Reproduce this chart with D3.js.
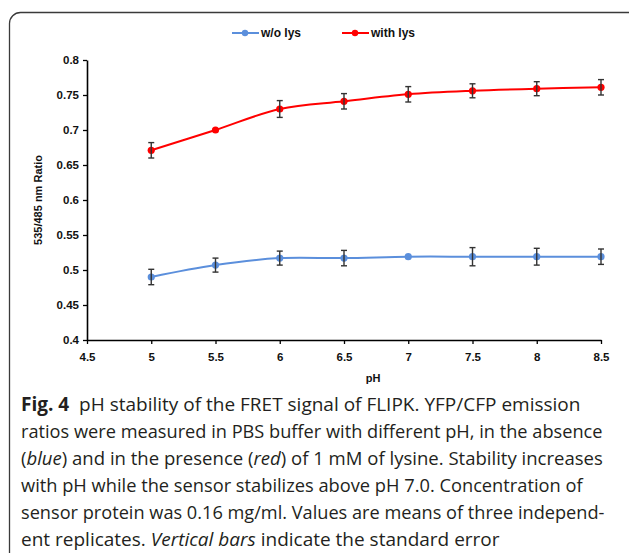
<!DOCTYPE html>
<html>
<head>
<meta charset="utf-8">
<script src="https://cdn.jsdelivr.net/npm/d3@7"></script>
<style>
  html, body { margin: 0; padding: 0; background: #fff; }
  svg { display: block; }
</style>
</head>
<body>
<svg id="fig" width="629" height="553"></svg>
<script>
// pH values tested
const phValues = [5, 5.5, 6, 6.5, 7, 7.5, 8, 8.5];
// 535/485 nm emission ratio without lysine (mean, standard error)
const ratioNoLys = [0.490, 0.507, 0.517, 0.517, 0.519, 0.519, 0.519, 0.519];
const errNoLys   = [0.011, 0.010, 0.010, 0.011, 0.001, 0.013, 0.012, 0.011];
// 535/485 nm emission ratio with 1 mM lysine (mean, standard error)
const ratioLys = [0.671, 0.700, 0.730, 0.741, 0.751, 0.756, 0.759, 0.761];
const errLys   = [0.011, 0.001, 0.012, 0.011, 0.011, 0.010, 0.010, 0.011];
// axis ticks
const xTicks = [4.5, 5, 5.5, 6, 6.5, 7, 7.5, 8, 8.5];
const yTicks = [0.4, 0.45, 0.5, 0.55, 0.6, 0.65, 0.7, 0.75, 0.8];
const seriesNames = ["w/o lys", "with lys"];
const seriesColors = ["#5b8fdc", "#ff0000"];

const captionLines = [
  [{t: "Fig. 4", b: true}, {t: "\u00a0\u00a0pH stability of the FRET signal of FLIPK. YFP/CFP emission"}],
  [{t: "ratios were measured in PBS buffer with different pH, in the absence"}],
  [{t: "("}, {t: "blue", i: true}, {t: ") and in the presence ("}, {t: "red", i: true}, {t: ") of 1 mM of lysine. Stability increases"}],
  [{t: "with pH while the sensor stabilizes above pH 7.0. Concentration of"}],
  [{t: "sensor protein was 0.16 mg/ml. Values are means of three independ-"}],
  [{t: "ent replicates. "}, {t: "Vertical bars", i: true}, {t: " indicate the standard error"}]
];
const captionWidths = [565, 582, 582, 562, 584, 492];

const svg = d3.select("#fig");

// figure frame with rounded corner (extends past right and bottom edges)
svg.append("rect")
  .attr("x", 9.5).attr("y", 12.5)
  .attr("width", 640).attr("height", 600)
  .attr("rx", 11).attr("ry", 11)
  .attr("fill", "none")
  .attr("stroke", "#3a3a3a")
  .attr("stroke-width", 1.3);

const x = d3.scaleLinear().domain([4.5, 8.5]).range([87, 601]);
const y = d3.scaleLinear().domain([0.4, 0.8]).range([340, 60]);

const fontChart = "'Liberation Sans', Arial, sans-serif";

// axes
const xAxis = svg.append("g")
  .attr("transform", `translate(0,${y(0.4)})`)
  .call(d3.axisBottom(x).tickValues(xTicks).tickFormat(d3.format("")).tickSize(4).tickSizeOuter(0));
const yAxis = svg.append("g")
  .attr("transform", `translate(${x(4.5)},0)`)
  .call(d3.axisLeft(y).tickValues(yTicks).tickFormat(d => String(+d.toFixed(2))).tickSize(4).tickSizeOuter(0));

[xAxis, yAxis].forEach(g => {
  g.select(".domain").attr("stroke", "#000").attr("stroke-width", 1.6);
  g.selectAll(".tick line").attr("stroke", "#000").attr("stroke-width", 1.3);
  g.selectAll(".tick text")
    .attr("fill", "#111")
    .style("font-family", fontChart)
    .style("font-size", "11.5px")
    .style("font-weight", "bold");
});
xAxis.selectAll(".tick text").attr("dy", "1.2em");
yAxis.selectAll(".tick text").attr("x", -8);

// axis titles
svg.append("text")
  .attr("x", x(6.5) + 29).attr("y", 382)
  .attr("text-anchor", "middle")
  .style("font-family", fontChart).style("font-size", "11px").style("font-weight", "bold")
  .attr("fill", "#111")
  .text("pH");
svg.append("text")
  .attr("transform", `translate(42,${y(0.6)}) rotate(-90)`)
  .attr("text-anchor", "middle")
  .style("font-family", fontChart).style("font-size", "11px").style("font-weight", "bold")
  .attr("fill", "#111")
  .text("535/485 nm Ratio");

// series
const series = [
  {name: seriesNames[0], color: seriesColors[0], vals: ratioNoLys, errs: errNoLys},
  {name: seriesNames[1], color: seriesColors[1], vals: ratioLys, errs: errLys}
];

const line = d3.line()
  .x(d => x(d.ph)).y(d => y(d.v))
  .curve(d3.curveCatmullRom.alpha(0.5));

series.forEach(s => {
  const pts = phValues.map((ph, i) => ({ph, v: s.vals[i], e: s.errs[i]}));
  const g = svg.append("g");
  g.append("path")
    .datum(pts)
    .attr("d", line)
    .attr("fill", "none")
    .attr("stroke", s.color)
    .attr("stroke-width", 2);
  g.selectAll("circle").data(pts).join("circle")
    .attr("cx", d => x(d.ph)).attr("cy", d => y(d.v))
    .attr("r", 3.6)
    .attr("fill", s.color);
  // error bars
  const eb = g.selectAll("g.eb").data(pts.filter(d => d.e > 0.003)).join("g").attr("class", "eb");
  eb.append("line")
    .attr("x1", d => x(d.ph)).attr("x2", d => x(d.ph))
    .attr("y1", d => y(d.v + d.e)).attr("y2", d => y(d.v - d.e))
    .attr("stroke", "#333").attr("stroke-width", 1.4);
  [1, -1].forEach(sg => {
    eb.append("line")
      .attr("x1", d => x(d.ph) - 3).attr("x2", d => x(d.ph) + 3)
      .attr("y1", d => y(d.v + sg * d.e)).attr("y2", d => y(d.v + sg * d.e))
      .attr("stroke", "#333").attr("stroke-width", 1.4);
  });
});

// legend
const legendX = [232, 342];
series.forEach((s, i) => {
  const lx = legendX[i], ly = 33;
  svg.append("line")
    .attr("x1", lx).attr("x2", lx + 27).attr("y1", ly).attr("y2", ly)
    .attr("stroke", s.color).attr("stroke-width", 2);
  svg.append("circle")
    .attr("cx", lx + 13).attr("cy", ly).attr("r", 3.2).attr("fill", s.color);
  svg.append("text")
    .attr("x", lx + 29).attr("y", ly + 4)
    .style("font-family", fontChart).style("font-size", "12px").style("font-weight", "bold")
    .attr("fill", "#111")
    .text(s.name);
});

// caption: each line is horizontally condensed to its column width
const cap = svg.append("g");
captionLines.forEach((parts, i) => {
  const lineG = cap.append("g");
  const t = lineG.append("text")
    .attr("x", 0).attr("y", 0)
    .style("font-family", "'Open Sans', 'Noto Sans', sans-serif")
    .style("font-size", "19px")
    .attr("fill", "#231f20");
  parts.forEach(p => {
    const ts = t.append("tspan").text(p.t);
    if (p.b) ts.style("font-weight", "bold");
    if (p.i) ts.style("font-style", "italic");
  });
  const natural = t.node().getComputedTextLength();
  const sx = Math.min(1, captionWidths[i] / natural);
  lineG.attr("transform", `translate(21,${411 + i * 27}) scale(${sx},1)`);
});
</script>
</body>
</html>
